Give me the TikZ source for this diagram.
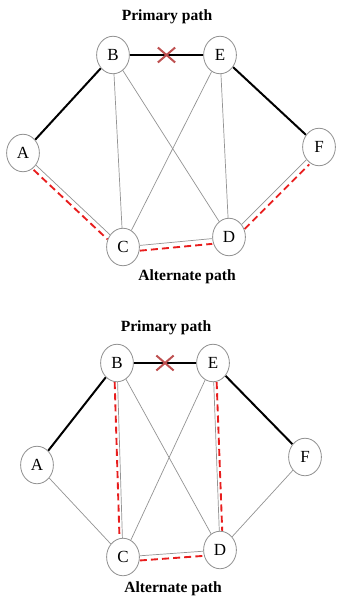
\documentclass[tikz,border=0pt]{standalone}
\usepackage{fontspec}
\setmainfont{Liberation Serif}
\usetikzlibrary{shapes.geometric, shapes.misc, backgrounds}
\definecolor{failred}{RGB}{190,80,80}
\definecolor{altred}{RGB}{232,30,30}

\begin{document}
\begin{tikzpicture}[
    x=0.03cm, y=-0.03cm,
    router/.style={ellipse, draw=gray!85, line width=0.7pt, fill=white, minimum width=28pt, minimum height=32pt, inner sep=0pt, font=\fontsize{14.5}{16}\selectfont},
    primary/.style={line width=1.7pt, black},
    link/.style={line width=0.6pt, gray!85},
    backup/.style={line width=1.6pt, altred, dash pattern=on 6pt off 3.5pt},
    title/.style={font=\bfseries\fontsize{13.3}{15}\selectfont},
    failmark/.style={cross out, draw=failred, line width=1.7pt, minimum width=13pt, minimum height=11pt, inner sep=0pt}
]
    \useasboundingbox (0,0) rectangle (337,597);

    % Upper network
    \node[router] (A1) at (23,153) {A};
    \node[router] (B1) at (113,55) {B};
    \node[router] (E1) at (220,55) {E};
    \node[router] (F1) at (319,147) {F};
    \node[router] (C1) at (123,247) {C};
    \node[router] (D1) at (229,237) {D};
    \node[title] (prim1) at (167,17) {Primary path};
    \node[title] (alt1) at (187,277) {Alternate path};

    \begin{scope}[on background layer]
    \draw[primary] (A1) -- (B1);
    \draw[primary] (B1) -- node[failmark] (cut1) {} (E1);
    \draw[primary] (E1) -- (F1);
    \draw[link] (B1) -- (C1);
    \draw[link] (B1) -- (D1);
    \draw[link] (E1) -- (C1);
    \draw[link] (E1) -- (D1);
    \draw[link] (A1) -- (C1);
    \draw[link] (C1) -- (D1);
    \draw[link] (D1) -- (F1);
    \draw[backup, transform canvas={shift={(-2pt,-4pt)}}] (A1) -- (C1);
    \draw[backup, transform canvas={shift={(0pt,-4.5pt)}}] (C1) -- (D1);
    \draw[backup, transform canvas={shift={(2.5pt,-4pt)}}] (D1) -- (F1);
    \end{scope}

    % Lower network
    \node[router] (A2) at (37,465) {A};
    \node[router] (B2) at (117,363) {B};
    \node[router] (E2) at (213,363) {E};
    \node[router] (F2) at (305,457) {F};
    \node[router] (C2) at (123,557) {C};
    \node[router] (D2) at (220,550) {D};
    \node[title] (prim2) at (166,328) {Primary path};
    \node[title] (alt2) at (173,589) {Alternate path};

    \begin{scope}[on background layer]
    \draw[primary] (A2) -- (B2);
    \draw[primary] (B2) -- node[failmark] (cut2) {} (E2);
    \draw[primary] (E2) -- (F2);
    \draw[link] (A2) -- (C2);
    \draw[link] (F2) -- (D2);
    \draw[link] (B2) -- (D2);
    \draw[link] (E2) -- (C2);
    \draw[link] (B2) -- (C2);
    \draw[link] (E2) -- (D2);
    \draw[link] (C2) -- (D2);
    \draw[backup, transform canvas={shift={(-2.5pt,0pt)}}] (B2) -- (C2);
    \draw[backup, transform canvas={shift={(2.5pt,0pt)}}] (E2) -- (D2);
    \draw[backup, transform canvas={shift={(0pt,-4pt)}}] (C2) -- (D2);
    \end{scope}

\end{tikzpicture}
\end{document}
